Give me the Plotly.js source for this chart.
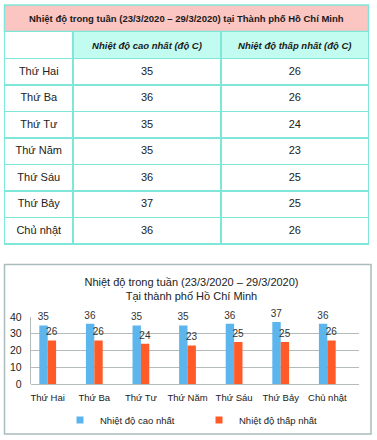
<!DOCTYPE html>
<html>
<head>
<meta charset="utf-8">
<script src="https://cdn.plot.ly/plotly-3.0.1.min.js"></script>
<style>html,body{margin:0;padding:0;background:#fff}#chart{width:377px;height:440px}</style>
</head>
<body>
<div id="chart"></div>
<script>
var tableTitle = "Nhiệt độ trong tuần (23/3/2020 – 29/3/2020) tại Thành phố Hồ Chí Minh";
var chartTitle = "Nhiệt độ trong tuần (23/3/2020 – 29/3/2020)<br>Tại thành phố Hồ Chí Minh";
var headers = ["", "Nhiệt độ cao nhất (độ C)", "Nhiệt độ thấp nhất (độ C)"];
var days = ["Thứ Hai", "Thứ Ba", "Thứ Tư", "Thứ Năm", "Thứ Sáu", "Thứ Bảy", "Chủ nhật"];
var highTemps = [35, 36, 35, 35, 36, 37, 36];
var lowTemps = [26, 26, 24, 23, 25, 25, 26];
var seriesNames = ["Nhiệt độ cao nhất", "Nhiệt độ thấp nhất"];
var yTicks = [0, 10, 20, 30, 40];

var W = 377, H = 440;
function px(x){return x/W;}
function py(y){return 1 - y/H;}

var cyan = "#7fe6da";
var sans = "Liberation Sans, Arial, sans-serif";

var traces = [
  {
    type: "table",
    domain: {x: [px(4.5), px(368.5)], y: [py(250), py(31.5)]},
    columnwidth: [68.5, 148, 147.5],
    header: {
      values: headers.map(function(h){return h ? "<b><i>" + h + "</i></b>" : "";}),
      height: 26.5,
      align: "center",
      fill: {color: ["#ffffff", "#c2fbf0", "#c2fbf0"]},
      line: {color: cyan, width: 1.5},
      font: {family: sans, size: 9.5, color: "#1a1a1a"}
    },
    cells: {
      values: [days, highTemps.map(String), lowTemps.map(String)],
      height: 26.5,
      align: "center",
      fill: {color: "#ffffff"},
      line: {color: cyan, width: 1.5},
      font: {family: sans, size: 11, color: "#222"}
    }
  },
  {
    type: "bar", name: seriesNames[0], x: days, y: highTemps,
    xaxis: "x", yaxis: "y",
    marker: {color: "#5cb5ec"},
    text: highTemps.map(String), textposition: "outside", cliponaxis: false,
    constraintext: "none",
    textfont: {family: sans, size: 10, color: "#333"},
    showlegend: false, hoverinfo: "skip"
  },
  {
    type: "bar", name: seriesNames[1], x: days, y: lowTemps,
    xaxis: "x", yaxis: "y",
    marker: {color: "#ff5b28"},
    text: lowTemps.map(String), textposition: "outside", cliponaxis: false,
    constraintext: "none",
    textfont: {family: sans, size: 10, color: "#333"},
    showlegend: false, hoverinfo: "skip"
  },
  {
    type: "scatter", mode: "markers", name: seriesNames[0], x: [null], y: [null],
    marker: {symbol: "square", size: 7, color: "#5cb5ec"},
    legend: "legend", showlegend: true, hoverinfo: "skip"
  },
  {
    type: "scatter", mode: "markers", name: seriesNames[1], x: [null], y: [null],
    marker: {symbol: "square", size: 7, color: "#ff5b28"},
    legend: "legend2", showlegend: true, hoverinfo: "skip"
  }
];

var legendCommon = {
  orientation: "h", xanchor: "left", yanchor: "middle",
  font: {family: sans, size: 9.5, color: "#222"},
  bgcolor: "rgba(0,0,0,0)", itemwidth: 30
};

var layout = {
  width: W, height: H,
  margin: {l: 0, r: 0, t: 0, b: 0},
  paper_bgcolor: "#ffffff", plot_bgcolor: "#ffffff",
  font: {family: sans, color: "#222"},
  barmode: "group", bargap: 0.64, bargroupgap: 0,
  title: {
    text: chartTitle, x: px(191.5), xanchor: "center",
    y: py(285.5), yanchor: "middle", yref: "paper",
    font: {family: sans, size: 11, color: "#222"}
  },
  xaxis: {
    domain: [px(30.7), px(359)],
    range: [-0.365, 6.68],
    type: "category",
    showgrid: false, zeroline: false,
    showline: false, ticks: "", ticklabelstandoff: 6,
    tickfont: {family: sans, size: 9.5, color: "#222"},
    fixedrange: true
  },
  yaxis: {
    domain: [py(384), py(317)],
    range: [0, 40],
    tickvals: yTicks,
    showgrid: true, gridcolor: "#b4bcbc", gridwidth: 1,
    zeroline: true, zerolinecolor: "#b4bcbc", zerolinewidth: 1,
    showline: true, linecolor: "#b4bcbc", linewidth: 1,
    ticks: "", ticklabelstandoff: 6,
    tickfont: {family: sans, size: 10.5, color: "#222"},
    fixedrange: true
  },
  legend: Object.assign({x: px(60), y: py(420)}, legendCommon),
  legend2: Object.assign({x: px(199), y: py(420)}, legendCommon),
  shapes: [
    {type: "rect", xref: "paper", yref: "paper",
     x0: px(4.5), x1: px(368.5), y0: py(31.5), y1: py(5),
     line: {color: cyan, width: 1.5}, fillcolor: "#fbc5c2", layer: "below"},
    {type: "rect", xref: "paper", yref: "paper",
     x0: px(4.5), x1: px(371), y0: py(434), y1: py(264.5),
     line: {color: "#aabcbc", width: 1.5}, fillcolor: "rgba(0,0,0,0)", layer: "below"}
  ],
  annotations: [
    {xref: "paper", yref: "paper", x: px(186.5), y: py(18.5),
     xanchor: "center", yanchor: "middle", showarrow: false,
     text: "<b>" + tableTitle + "</b>",
     font: {family: sans, size: 9.5, color: "#1a1a1a"}}
  ]
};

Plotly.newPlot("chart", traces, layout, {displayModeBar: false, staticPlot: true});
</script>
</body>
</html>
